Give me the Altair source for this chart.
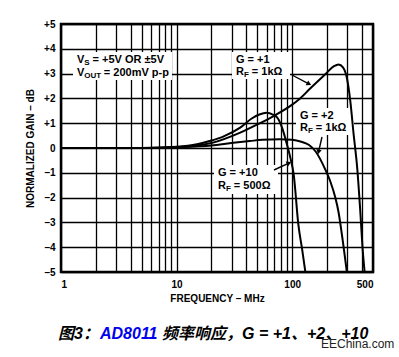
import math
import altair as alt
import pandas as pd

# ---------------- data ----------------
g1_freq = [1, 5, 10, 15, 20, 35.5, 50, 69, 100, 117, 143, 193, 230, 252, 275, 297, 318, 340, 365, 388, 406, 423]
g1_gain = [0, 0, 0.03, 0.1, 0.2, 0.62, 0.95, 1.29, 1.75, 2.0, 2.4, 2.97, 3.3, 3.37, 3.25, 2.83, 1.9, 0.55, -0.8, -2.54, -4.02, -5.0]

g2_freq = [1, 5, 10, 20, 31, 43, 55, 78, 100, 120, 140, 160, 193, 213, 236, 252, 269, 297]
g2_gain = [0, 0, 0.03, 0.1, 0.21, 0.28, 0.33, 0.35, 0.33, 0.25, 0.12, -0.15, -0.86, -1.33, -2.0, -2.6, -3.48, -5.0]

g10_freq = [1, 5, 10, 15, 20, 25, 35.5, 45, 52, 60, 68, 75, 82, 90, 97, 103, 113, 122, 130]
g10_gain = [0, 0, 0.05, 0.15, 0.3, 0.45, 0.82, 1.2, 1.35, 1.42, 1.35, 1.2, 0.8, 0.15, -0.45, -1.06, -3.08, -4.1, -5.0]

x_grid = [1, 2, 3, 4, 5, 6, 7, 8, 9, 10, 20, 30, 40, 50, 60, 70, 80, 90, 100, 200, 300, 400, 500]
x_labels = [1, 10, 100, 500]
y_ticks = [-5, -4, -3, -2, -1, 0, 1, 2, 3, 4, 5]

rows = []
for name, fs, gs in [("G1", g1_freq, g1_gain), ("G2", g2_freq, g2_gain), ("G10", g10_freq, g10_gain)]:
    for i, (f, g) in enumerate(zip(fs, gs)):
        rows.append({"series": name, "order": i, "freq": f, "gain": g})
df = pd.DataFrame(rows)

FONT = "Liberation Sans"
CJK = "Liberation Sans, Noto Sans CJK SC"
L, T = 61, 24  # plot origin in page pixels
AS = 11  # annotation font size

x_enc = alt.X("freq:Q", scale=alt.Scale(type="log", domain=[1, 500], nice=False),
              axis=alt.Axis(values=x_grid, format="d",
                            labelExpr="indexof([1,10,100,500], datum.value) >= 0 ? datum.label : ''",
                            title="FREQUENCY – MHz", labelPadding=7, titlePadding=4))
y_enc = alt.Y("gain:Q", scale=alt.Scale(domain=[-5, 5], nice=False),
              axis=alt.Axis(values=y_ticks,
                            labelExpr="datum.value > 0 ? '+' + datum.value : (datum.value < 0 ? '–' + abs(datum.value) : '0')",
                            title="NORMALIZED GAIN – dB", labelPadding=6, titlePadding=8))

curves = alt.Chart(df).mark_line(color="black", strokeWidth=2, interpolate="monotone", clip=True).encode(
    x=x_enc, y=y_enc, detail="series:N", order="order:Q")

one = alt.Data(values=[{}])


def txt(s, x, y, size=AS, color="black", weight="bold", style="normal", font=FONT):
    return alt.Chart(one).mark_text(text=s, align="left", baseline="middle", fontSize=size,
                                    fontWeight=weight, fontStyle=style, font=font, color=color).encode(
        x=alt.value(x - L), y=alt.value(y - T))


def sub_label(main, sub, rest, x, y, main_w, sub_w):
    # gap of one space between the subscript and the rest of the label
    return [txt(main, x, y), txt(sub, x + main_w, y + 3, size=8), txt(rest, x + main_w + sub_w + 3, y)]


def box(x1, x2, y1, y2):
    return alt.Chart(one).mark_rect(color="white").encode(
        x=alt.value(x1 - L), x2=alt.value(x2 - L), y=alt.value(y1 - T), y2=alt.value(y2 - T))


def arrow(x1, y1, x2, y2):
    dx, dy = x2 - x1, y2 - y1
    ang = math.degrees(math.atan2(dx, -dy)) % 360
    n = math.hypot(dx, dy)
    hx, hy = x2 - 3 * dx / n, y2 - 3 * dy / n
    line = alt.Chart(one).mark_rule(color="black", strokeWidth=1.4).encode(
        x=alt.value(x1 - L), y=alt.value(y1 - T), x2=alt.value(hx - L), y2=alt.value(hy - T))
    head = alt.Chart(one).mark_point(shape="triangle", filled=True, size=30, angle=ang, color="black",
                                     opacity=1).encode(x=alt.value(hx - L), y=alt.value(hy - T))
    return [line, head]


layers = [
    box(73, 172, 52, 80),
    box(232, 290, 52, 79),
    box(296, 354, 108, 135),
    box(214, 278, 165, 194),
    curves,
]
layers += sub_label("V", "S", "= +5V OR ±5V", 77, 60, 7.3, 5.3)
layers += sub_label("V", "OUT", "= 200mV p-p", 77, 73, 7.3, 16.5)
layers += [txt("G = +1", 236, 60)]
layers += sub_label("R", "F", "= 1kΩ", 236, 72, 7.9, 4.9)
layers += [txt("G = +2", 300, 116)]
layers += sub_label("R", "F", "= 1kΩ", 300, 128, 7.9, 4.9)
layers += [txt("G = +10", 218, 173)]
layers += sub_label("R", "F", "= 500Ω", 218, 186, 7.9, 4.9)
layers += arrow(292, 75, 311, 85)
layers += arrow(322, 137, 318, 154)
layers += arrow(274, 170, 291, 162)

# caption and watermark
layers += [
    txt("图3：", 58, 334, size=16, style="italic", font=CJK),
    txt("AD8011", 100, 334, size=16, style="italic", font=CJK, color="#0000ee"),
    txt("频率响应，G = +1、+2、+10", 162, 334, size=16, style="italic", font=CJK),
    txt("EEChina.com", 321, 344, size=12, weight="normal", color="#222222"),
]

chart = alt.layer(*layers).properties(
    width=312, height=248,
    autosize=alt.AutoSizeParams(type="none"),
    padding={"left": L, "top": T, "right": 26, "bottom": 85},
    background="white",
).configure_view(stroke="black", strokeWidth=2.5).configure_axis(
    domain=False, ticks=False, grid=True, gridColor="black", gridWidth=1.3, gridOpacity=1,
    labelFont=FONT, labelFontSize=10, labelFontWeight="bold", labelColor="black",
    titleFont=FONT, titleFontSize=10, titleFontWeight="bold", titleColor="black",
)

chart.save("out.html", embed_options={"renderer": "svg", "actions": False})
